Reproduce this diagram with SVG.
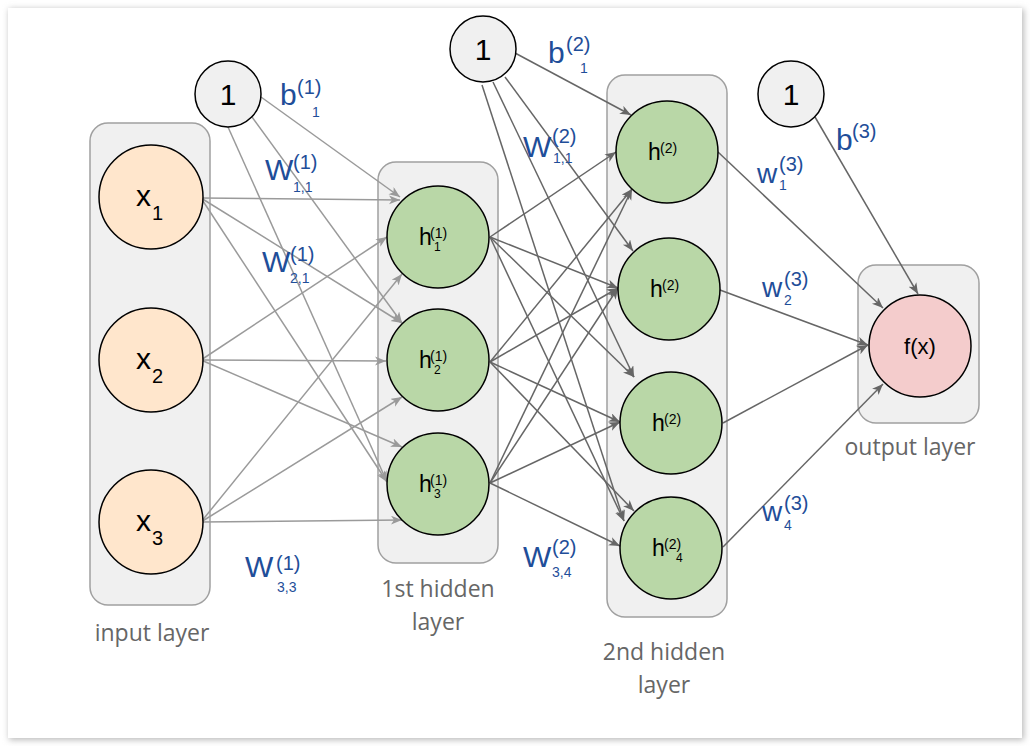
<svg xmlns="http://www.w3.org/2000/svg" width="1030" height="746" viewBox="0 0 1030 746">
<defs>
<filter id="sh" x="-5%" y="-5%" width="110%" height="110%"><feGaussianBlur stdDeviation="3"/></filter>
<marker id="aL" markerUnits="userSpaceOnUse" markerWidth="12" markerHeight="10" refX="11" refY="4.5" orient="auto"><path d="M0,0 L11,4.5 L0,9 L3,4.5 z" fill="#9a9a9a"/></marker>
<marker id="aD" markerUnits="userSpaceOnUse" markerWidth="12" markerHeight="10" refX="11" refY="4.5" orient="auto"><path d="M0,0 L11,4.5 L0,9 L3,4.5 z" fill="#666"/></marker>
<style>
.box{fill:#f0f0f0;stroke:#a0a0a0;stroke-width:1.5}
.in{fill:#ffe6cc;stroke:#000;stroke-width:1.5}
.hid{fill:#b9d7a7;stroke:#000;stroke-width:1.5}
.out{fill:#f4cccc;stroke:#000;stroke-width:1.5}
.bias{fill:#f0f0f0;stroke:#000;stroke-width:1.5}
.eL{stroke:#9a9a9a;stroke-width:1.5;fill:none;marker-end:url(#aL)}
.eD{stroke:#666;stroke-width:1.5;fill:none;marker-end:url(#aD)}
text{font-family:"Liberation Sans",Arial,sans-serif}
.nt{fill:#000}
.lb{fill:#1f4e99}
.ly{font-family:"Open Sans","DejaVu Sans",sans-serif;font-size:23px;fill:#666;text-anchor:middle}
</style>
</defs>
<rect x="9" y="9" width="1015" height="731" fill="#bbb" filter="url(#sh)"/>
<rect x="8" y="8" width="1014" height="730" fill="#fff"/>

<g id="input-layer"><rect class="box" x="90" y="123" width="120" height="482" rx="18"/><text class="ly" x="152" y="641">input layer</text></g>
<g id="hidden1-layer"><rect class="box" x="378" y="162" width="120" height="401" rx="18"/><text class="ly" x="438" y="597">1st hidden</text><text class="ly" x="438" y="630">layer</text></g>
<g id="hidden2-layer"><rect class="box" x="607" y="75" width="120" height="542" rx="18"/><text class="ly" x="664" y="660">2nd hidden</text><text class="ly" x="664" y="693">layer</text></g>
<g id="output-layer"><rect class="box" x="858" y="265" width="121" height="158" rx="18"/><text class="ly" x="910" y="455">output layer</text></g>

<g id="connectors">
<line class="eL" x1="201" y1="198" x2="400" y2="200"/>
<line class="eL" x1="201" y1="198" x2="402" y2="323"/>
<line class="eL" x1="201" y1="198" x2="387" y2="482"/>
<line class="eL" x1="201" y1="360" x2="387" y2="237"/>
<line class="eL" x1="201" y1="360" x2="386" y2="361"/>
<line class="eL" x1="201" y1="360" x2="402" y2="447"/>
<line class="eL" x1="201" y1="522" x2="402" y2="274"/>
<line class="eL" x1="201" y1="522" x2="402" y2="397"/>
<line class="eL" x1="201" y1="522" x2="402" y2="520"/>
<line class="eL" x1="261" y1="97" x2="400" y2="197"/>
<line class="eL" x1="252" y1="117" x2="402" y2="323"/>
<line class="eL" x1="228" y1="127" x2="387" y2="482"/>

<line class="eD" x1="490" y1="237" x2="616" y2="152"/>
<line class="eD" x1="490" y1="237" x2="618" y2="288"/>
<line class="eD" x1="490" y1="237" x2="634" y2="377"/>
<line class="eD" x1="490" y1="237" x2="624" y2="521"/>
<line class="eD" x1="490" y1="362" x2="632" y2="189"/>
<line class="eD" x1="490" y1="362" x2="618" y2="288"/>
<line class="eD" x1="490" y1="362" x2="620" y2="422"/>
<line class="eD" x1="490" y1="362" x2="634" y2="511"/>
<line class="eD" x1="490" y1="483" x2="632" y2="189"/>
<line class="eD" x1="490" y1="483" x2="618" y2="288"/>
<line class="eD" x1="490" y1="483" x2="620" y2="422"/>
<line class="eD" x1="490" y1="483" x2="620" y2="546"/>
<line class="eD" x1="515" y1="53" x2="631" y2="115"/>
<line class="eD" x1="505" y1="77" x2="633" y2="251"/>
<line class="eD" x1="493" y1="82" x2="634" y2="377"/>
<line class="eD" x1="482" y1="85" x2="624" y2="521"/>

<line class="eD" x1="718" y1="152" x2="883" y2="308"/>
<line class="eD" x1="720" y1="290" x2="868" y2="345"/>
<line class="eD" x1="723" y1="423" x2="868" y2="345"/>
<line class="eD" x1="723" y1="547" x2="883" y2="384"/>
<line class="eD" x1="815" y1="117" x2="918" y2="294"/>
</g>

<g id="x1"><circle class="in" cx="151" cy="197" r="52"/><text class="nt" x="136" y="206" font-size="30">x</text><text class="nt" x="152" y="220" font-size="20">1</text></g>
<g id="x2"><circle class="in" cx="151" cy="360" r="52"/><text class="nt" x="136" y="369" font-size="30">x</text><text class="nt" x="152" y="383" font-size="20">2</text></g>
<g id="x3"><circle class="in" cx="151" cy="522" r="52"/><text class="nt" x="136" y="531" font-size="30">x</text><text class="nt" x="152" y="545" font-size="20">3</text></g>

<g id="bias1"><circle class="bias" cx="228" cy="94" r="33"/><text class="nt" x="228" y="105" font-size="30" text-anchor="middle">1</text></g>
<g id="bias2"><circle class="bias" cx="483" cy="49" r="33"/><text class="nt" x="483" y="60" font-size="30" text-anchor="middle">1</text></g>
<g id="bias3"><circle class="bias" cx="791" cy="94" r="33"/><text class="nt" x="791" y="105" font-size="30" text-anchor="middle">1</text></g>

<g id="h1-1"><circle class="hid" cx="438" cy="237" r="51"/><text class="nt" x="419" y="245" font-size="23">h</text><text class="nt" x="430" y="238" font-size="14">(1)</text><text class="nt" x="434" y="251" font-size="12">1</text></g>
<g id="h1-2"><circle class="hid" cx="438" cy="360" r="51"/><text class="nt" x="419" y="368" font-size="23">h</text><text class="nt" x="430" y="361" font-size="14">(1)</text><text class="nt" x="434" y="374" font-size="12">2</text></g>
<g id="h1-3"><circle class="hid" cx="438" cy="484" r="51"/><text class="nt" x="419" y="492" font-size="23">h</text><text class="nt" x="430" y="485" font-size="14">(1)</text><text class="nt" x="434" y="498" font-size="12">3</text></g>

<g id="h2-1"><circle class="hid" cx="667" cy="152" r="51"/><text class="nt" x="648" y="160" font-size="23">h</text><text class="nt" x="660" y="153" font-size="14">(2)</text></g>
<g id="h2-2"><circle class="hid" cx="669" cy="289" r="51"/><text class="nt" x="650" y="297" font-size="23">h</text><text class="nt" x="662" y="290" font-size="14">(2)</text></g>
<g id="h2-3"><circle class="hid" cx="671" cy="423" r="51"/><text class="nt" x="652" y="431" font-size="23">h</text><text class="nt" x="664" y="424" font-size="14">(2)</text></g>
<g id="h2-4"><circle class="hid" cx="671" cy="548" r="51"/><text class="nt" x="652" y="556" font-size="23">h</text><text class="nt" x="664" y="549" font-size="14">(2)</text><text class="nt" x="676" y="562" font-size="12">4</text></g>

<g id="fx"><circle class="out" cx="920" cy="346" r="51"/><text class="nt" x="920" y="354" font-size="22" text-anchor="middle">f(x)</text></g>

<g id="labels" class="lb">
<text class="lb" x="280" y="105" font-size="30">b</text><text class="lb" x="297" y="94" font-size="20">(1)</text><text class="lb" x="312" y="117" font-size="14">1</text>
<text class="lb" x="265" y="180" font-size="30">W</text><text class="lb" x="293" y="169" font-size="20">(1)</text><text class="lb" x="293" y="192" font-size="14">1,1</text>
<text class="lb" x="262" y="272" font-size="30">W</text><text class="lb" x="290" y="261" font-size="20">(1)</text><text class="lb" x="290" y="283" font-size="14">2,1</text>
<text class="lb" x="245" y="577" font-size="30">W</text><text class="lb" x="276" y="570" font-size="20">(1)</text><text class="lb" x="277" y="592" font-size="14">3,3</text>
<text class="lb" x="548" y="63" font-size="30">b</text><text class="lb" x="566" y="51" font-size="20">(2)</text><text class="lb" x="580" y="73" font-size="14">1</text>
<text class="lb" x="523" y="157" font-size="30">W</text><text class="lb" x="552" y="143" font-size="20">(2)</text><text class="lb" x="553" y="163" font-size="14">1,1</text>
<text class="lb" x="523" y="567" font-size="30">W</text><text class="lb" x="552" y="554" font-size="20">(2)</text><text class="lb" x="552" y="577" font-size="14">3,4</text>
<text class="lb" x="757" y="183" font-size="28">w</text><text class="lb" x="779" y="171" font-size="20">(3)</text><text class="lb" x="779" y="190" font-size="14">1</text>
<text class="lb" x="762" y="297" font-size="28">w</text><text class="lb" x="784" y="286" font-size="20">(3)</text><text class="lb" x="784" y="305" font-size="14">2</text>
<text class="lb" x="762" y="521" font-size="28">w</text><text class="lb" x="784" y="510" font-size="20">(3)</text><text class="lb" x="784" y="530" font-size="14">4</text>
<text class="lb" x="836" y="150" font-size="30">b</text><text class="lb" x="852" y="138" font-size="20">(3)</text>
</g>
</svg>
